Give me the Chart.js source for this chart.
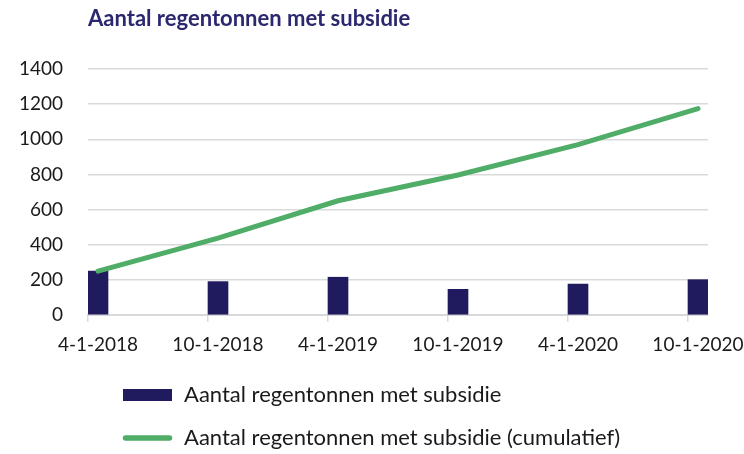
<!DOCTYPE html>
<html><head><meta charset="utf-8">
<script src="https://cdn.jsdelivr.net/npm/chart.js@4"></script>
<style>html,body{margin:0;padding:0;background:#fff}#wrap{width:744px;height:454px;position:relative}</style>
</head><body><div id="wrap"><canvas id="c" width="744" height="454"></canvas></div>
<script>
const chartTitle = 'Aantal regentonnen met subsidie';
const dates = ['4-1-2018', '10-1-2018', '4-1-2019', '10-1-2019', '4-1-2020', '10-1-2020'];
const barValues = [250, 190, 215, 146, 176, 201];
const cumulativeValues = [250, 438, 650, 797, 970, 1175];
const seriesNames = ['Aantal regentonnen met subsidie', 'Aantal regentonnen met subsidie (cumulatief)'];
const yMin = 0, yMax = 1400, yStep = 200;

const NAVY = '#201a5e', GREEN = '#50ad68', GRID = '#d9d9d9', TEXT = '#1a1a1a', TITLE = '#2b2870';
const FAMILY = 'Lato';

// build a monthly date axis (one category per month) from the dates
function parseDate(s) { const [m, d, y] = s.split('-').map(Number); return { m, d, y }; }
const first = parseDate(dates[0]);
const monthIndex = s => { const p = parseDate(s); return (p.y - first.y) * 12 + (p.m - first.m); };
const nMonths = monthIndex(dates[dates.length - 1]) + 1;
const monthLabels = [];
for (let k = 0; k < nMonths; k++) {
  const t = (first.m - 1) + k;
  monthLabels.push(`${(t % 12) + 1}-1-${first.y + Math.floor(t / 12)}`);
}
const barData = new Array(nMonths).fill(null);
const lineData = new Array(nMonths).fill(null);
dates.forEach((d, i) => { barData[monthIndex(d)] = barValues[i]; lineData[monthIndex(d)] = cumulativeValues[i]; });

// font size fitting
const mctx = document.createElement('canvas').getContext('2d');
function fit(text, weight, target) {
  mctx.font = `${weight} 100px ${FAMILY}`;
  return Math.round(100 * target / mctx.measureText(text).width * 2) / 2;
}
const tickSize = (fit('1400', 'normal', 43) + fit('4-1-2018', 'normal', 82) + fit('10-1-2020', 'normal', 92)) / 3;
const legendSize = fit(seriesNames[1], 'normal', 439);
const titleSize = fit(chartTitle, 'bold', 323);

const decor = {
  id: 'decor',
  afterDraw(chart) {
    const ctx = chart.ctx;
    ctx.save();
    ctx.fillStyle = TITLE;
    ctx.font = `bold ${titleSize}px ${FAMILY}`;
    ctx.textBaseline = 'alphabetic';
    ctx.textAlign = 'left';
    ctx.fillText(chartTitle, chart.chartArea.left, 26);
    // legend
    ctx.fillStyle = NAVY;
    ctx.fillRect(123, 389, 49, 12);
    ctx.strokeStyle = GREEN;
    ctx.lineWidth = 5.5;
    ctx.lineCap = 'round';
    ctx.beginPath(); ctx.moveTo(125.5, 438); ctx.lineTo(169.5, 438); ctx.stroke();
    ctx.fillStyle = TEXT;
    ctx.font = `${legendSize}px ${FAMILY}`;
    ctx.textBaseline = 'middle';
    ctx.fillText(seriesNames[0], 184, 395);
    ctx.fillText(seriesNames[1], 184, 438);
    ctx.restore();
  }
};

new Chart(document.getElementById('c'), {
  type: 'bar',
  data: {
    labels: monthLabels,
    datasets: [
      { type: 'line', label: seriesNames[1], data: lineData, spanGaps: true, borderColor: GREEN, borderWidth: 5,
        pointRadius: 0, pointHoverRadius: 0, tension: 0, borderCapStyle: 'round', order: 0 },
      { type: 'bar', label: seriesNames[0], data: barData, backgroundColor: NAVY, borderWidth: 0,
        categoryPercentage: 1, barPercentage: 1, order: 1 }
    ]
  },
  options: {
    responsive: false,
    animation: false,
    layout: { padding: { top: 69, bottom: 94, left: 0, right: 36 } },
    plugins: { legend: { display: false }, tooltip: { enabled: false }, title: { display: false } },
    scales: {
      x: {
        type: 'category',
        offset: true,
        grid: {
          offset: true, drawOnChartArea: false, drawTicks: true, tickLength: 7, lineWidth: 1.5,
          color: c => (c.tick && dates.includes(monthLabels[c.index]) ? GRID : 'rgba(0,0,0,0)')
        },
        border: { display: true, color: GRID, width: 2 },
        ticks: {
          autoSkip: false, maxRotation: 0, minRotation: 0, padding: 11, color: TEXT,
          font: { family: FAMILY, size: tickSize },
          callback: (v, i) => (dates.includes(monthLabels[i]) ? monthLabels[i] : '')
        },
        afterFit: s => { s.height = 45; s.paddingLeft = 0; s.paddingRight = 0; }
      },
      y: {
        min: yMin, max: yMax,
        grid: { color: GRID, lineWidth: 1.5, drawTicks: false },
        border: { display: false },
        ticks: { stepSize: yStep, padding: 25, color: TEXT, font: { family: FAMILY, size: tickSize },
          callback: v => String(v) },
        afterFit: s => { s.width = 88; }
      }
    }
  },
  plugins: [decor]
});
</script>
</body></html>
